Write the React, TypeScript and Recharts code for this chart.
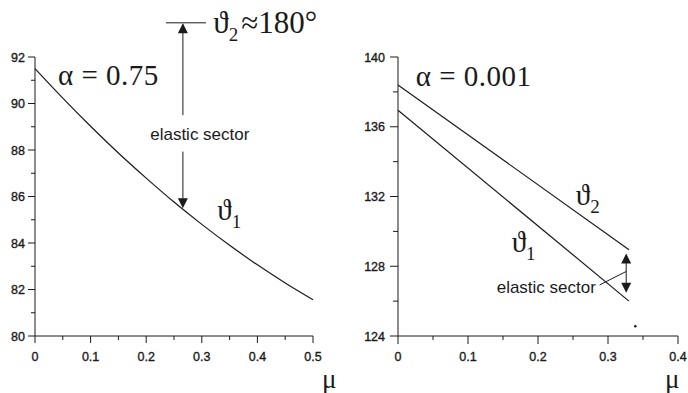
import React from 'react';
import { LineChart, Line, XAxis, YAxis, ReferenceLine, ReferenceDot } from 'recharts';

// Left panel: alpha = 0.75, single boundary angle theta_1 vs friction mu
const muLeft = [0, 0.05, 0.1, 0.15, 0.2, 0.25, 0.3, 0.35, 0.4, 0.45, 0.5];
const theta1Left = [91.5, 90.23, 89.02, 87.87, 86.79, 85.76, 84.8, 83.9, 83.06, 82.28, 81.56];

// Right panel: alpha = 0.001, both boundary angles
const muRight = [0, 0.33];
const theta1Right = [136.95, 126.0];
const theta2Right = [138.4, 128.95];

// Axis ticks (minor + labelled majors)
const leftXTicks = [0, 0.05, 0.1, 0.15, 0.2, 0.25, 0.3, 0.35, 0.4, 0.45, 0.5];
const leftXMajor = [0, 0.1, 0.2, 0.3, 0.4, 0.5];
const leftYTicks = [80, 81, 82, 83, 84, 85, 86, 87, 88, 89, 90, 91, 92];
const leftYMajor = [80, 82, 84, 86, 88, 90, 92];
const rightXTicks = [0, 0.05, 0.1, 0.15, 0.2, 0.25, 0.3, 0.35, 0.4];
const rightXMajor = [0, 0.1, 0.2, 0.3, 0.4];
const rightYTicks = [124, 126, 128, 130, 132, 134, 136, 138, 140];
const rightYMajor = [124, 128, 132, 136, 140];

const leftData = muLeft.map((mu, i) => ({ mu, t1: theta1Left[i] }));
const rightData = muRight.map((mu, i) => ({ mu, t1: theta1Right[i], t2: theta2Right[i] }));

const INK = '#1a1a1a';
const SANS = "'Liberation Sans', Arial, sans-serif";
const SERIF = "'Liberation Serif', 'DejaVu Serif', 'Times New Roman', serif";

const isMajor = (majors: number[], v: number) => majors.some((m) => Math.abs(m - v) < 1e-9);

const makeYTick = (majors: number[], majorLen: number, minorLen: number, gap: number) => (props: any) => {
  const { x, y, payload } = props;
  const major = isMajor(majors, payload.value);
  return (
    <g>
      <line x1={x - (major ? majorLen : minorLen)} x2={x} y1={y} y2={y} stroke={INK} strokeWidth={1} />
      {major && (
        <text x={x - gap} y={y} dy="0.36em" textAnchor="end" fontFamily={SANS} fontSize={12.5} fill={INK} stroke={INK} strokeWidth={0.35}>
          {String(payload.value)}
        </text>
      )}
    </g>
  );
};

const makeXTick = (majors: number[], majorLen: number, minorLen: number) => (props: any) => {
  const { x, y, payload } = props;
  const major = isMajor(majors, payload.value);
  return (
    <g>
      <line x1={x} x2={x} y1={y} y2={y + (major ? majorLen : minorLen)} stroke={INK} strokeWidth={1} />
      {major && (
        <text x={x} y={y + 25} textAnchor="middle" fontFamily={SANS} fontSize={12.5} fill={INK} stroke={INK} strokeWidth={0.35}>
          {String(payload.value)}
        </text>
      )}
    </g>
  );
};

const makeMuLabel = (dx: number) => (props: any) => {
  const vb = props.viewBox || {};
  return (
    <text x={vb.x + vb.width + dx} y={vb.y + 52} fontFamily={SERIF} fontSize={27} fill={INK}>
      μ
    </text>
  );
};

// Text placed at a data coordinate (baseline-left anchored)
const textShape = (content: React.ReactNode, size: number, family: string, spacing: number = 0) => (p: any) => (
  <text x={p.cx} y={p.cy} fontFamily={family} fontSize={size} fill={INK} letterSpacing={spacing}>
    {content}
  </text>
);

const thetaSub = (sub: string, rest?: string) => (
  <>
    <tspan>ϑ</tspan>
    <tspan fontSize={19} dy={8}>{sub}</tspan>
    {rest && <tspan dy={-8} dx={3}>{rest}</tspan>}
  </>
);

const arrowHead = (dir: 'up' | 'down') => (p: any) => {
  const { cx, cy } = p;
  const h = 10;
  const w = 5;
  const pts =
    dir === 'up'
      ? `${cx},${cy} ${cx - w},${cy + h} ${cx + w},${cy + h}`
      : `${cx},${cy} ${cx - w},${cy - h} ${cx + w},${cy - h}`;
  return <polygon points={pts} fill={INK} stroke="none" />;
};

const speck = (p: any) => <circle cx={p.cx} cy={p.cy} r={1.3} fill={INK} />;

export default function App() {
  return (
    <div style={{ position: 'absolute', left: 0, top: 0, width: 688, height: 393, background: '#fff' }}>
      <div style={{ position: 'absolute', left: 0, top: 0 }}>
        <LineChart width={344} height={393} data={leftData} margin={{ top: 57, right: 31, bottom: 17, left: 0 }}>
          <XAxis
            dataKey="mu"
            type="number"
            domain={[0, 0.5]}
            ticks={leftXTicks}
            interval={0}
            tickSize={0}
            tickMargin={0}
            tickLine={false}
            tick={makeXTick(leftXMajor, 7, 4)}
            axisLine={{ stroke: INK }}
            height={40}
            label={makeMuLabel(9)}
          />
          <YAxis
            type="number"
            domain={[80, 92]}
            ticks={leftYTicks}
            interval={0}
            tickSize={0}
            tickMargin={0}
            tickLine={false}
            tick={makeYTick(leftYMajor, 7, 4, 10)}
            axisLine={{ stroke: INK }}
            width={35}
          />
          <Line dataKey="t1" type="monotone" stroke={INK} strokeWidth={1.2} dot={false} isAnimationActive={false} />

          {/* theta_2 ≈ 180° marker and elastic-sector arrow */}
          <ReferenceLine segment={[{ x: 0.2355, y: 93.47 }, { x: 0.3076, y: 93.47 }]} stroke={INK} strokeWidth={1} ifOverflow="visible" />
          <ReferenceLine segment={[{ x: 0.266, y: 93.4 }, { x: 0.266, y: 89.5 }]} stroke={INK} strokeWidth={1} ifOverflow="visible" />
          <ReferenceLine segment={[{ x: 0.266, y: 87.93 }, { x: 0.266, y: 85.9 }]} stroke={INK} strokeWidth={1} ifOverflow="visible" />
          <ReferenceDot x={0.266} y={93.45} r={1} ifOverflow="visible" shape={arrowHead('up')} />
          <ReferenceDot x={0.266} y={85.5} r={1} ifOverflow="visible" shape={arrowHead('down')} />

          <ReferenceDot x={0.2072} y={88.43} r={1} ifOverflow="visible" shape={textShape('elastic sector', 17, SANS)} />
          <ReferenceDot x={0.3207} y={93.03} r={1} ifOverflow="visible" shape={textShape(thetaSub('2', '≈180°'), 31, SERIF)} />
          <ReferenceDot x={0.0414} y={90.8} r={1} ifOverflow="visible" shape={textShape('α = 0.75', 29, SERIF, 0.5)} />
          <ReferenceDot x={0.328} y={84.99} r={1} ifOverflow="visible" shape={textShape(thetaSub('1'), 29, SERIF)} />
        </LineChart>
      </div>

      <div style={{ position: 'absolute', left: 344, top: 0 }}>
        <LineChart width={344} height={393} data={rightData} margin={{ top: 57, right: 10, bottom: 17, left: 0 }}>
          <XAxis
            dataKey="mu"
            type="number"
            domain={[0, 0.4]}
            ticks={rightXTicks}
            interval={0}
            tickSize={0}
            tickMargin={0}
            tickLine={false}
            tick={makeXTick(rightXMajor, 8, 4)}
            axisLine={{ stroke: INK }}
            height={40}
            label={makeMuLabel(-13)}
          />
          <YAxis
            type="number"
            domain={[124, 140]}
            ticks={rightYTicks}
            interval={0}
            tickSize={0}
            tickMargin={0}
            tickLine={false}
            tick={makeYTick(rightYMajor, 8, 5, 13)}
            axisLine={{ stroke: INK }}
            width={54}
          />
          <Line dataKey="t2" type="linear" stroke={INK} strokeWidth={1.2} dot={false} isAnimationActive={false} />
          <Line dataKey="t1" type="linear" stroke={INK} strokeWidth={1.2} dot={false} isAnimationActive={false} />

          {/* elastic-sector double arrow with pointer */}
          <ReferenceLine segment={[{ x: 0.326, y: 128.6 }, { x: 0.326, y: 126.6 }]} stroke={INK} strokeWidth={1} ifOverflow="visible" />
          <ReferenceDot x={0.326} y={128.73} r={1} ifOverflow="visible" shape={arrowHead('up')} />
          <ReferenceDot x={0.326} y={126.48} r={1} ifOverflow="visible" shape={arrowHead('down')} />
          <ReferenceLine segment={[{ x: 0.288, y: 126.93 }, { x: 0.326, y: 127.7 }]} stroke={INK} strokeWidth={1} ifOverflow="visible" />

          <ReferenceDot x={0.141} y={126.46} r={1} ifOverflow="visible" shape={textShape('elastic sector', 17, SANS)} />
          <ReferenceDot x={0.0253} y={138.32} r={1} ifOverflow="visible" shape={textShape('α = 0.001', 29, SERIF, 0.5)} />
          <ReferenceDot x={0.254} y={131.5} r={1} ifOverflow="visible" shape={textShape(thetaSub('2'), 29, SERIF)} />
          <ReferenceDot x={0.1624} y={128.83} r={1} ifOverflow="visible" shape={textShape(thetaSub('1'), 29, SERIF)} />
          <ReferenceDot x={0.339} y={124.56} r={1} ifOverflow="visible" shape={speck} />
        </LineChart>
      </div>
    </div>
  );
}
